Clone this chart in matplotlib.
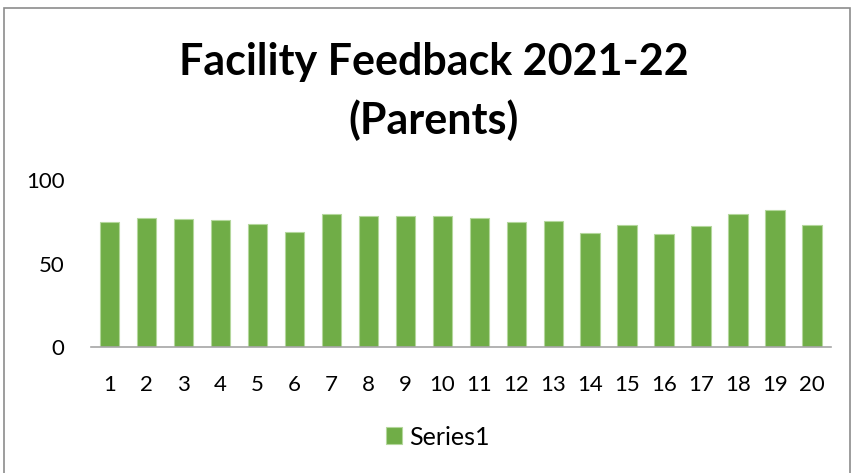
import matplotlib.pyplot as plt
from matplotlib.patches import Rectangle

questions = [str(i) for i in range(1, 21)]
scores = [75, 77.4, 76.8, 76.2, 74, 69.2, 80, 78.6, 78.6, 78.6,
          77.4, 75.2, 75.8, 68.3, 73.4, 67.7, 72.8, 80, 82.2, 73.4]

plt.rcParams['font.family'] = ['Lato', 'DejaVu Sans']

fig = plt.figure(figsize=(8.52, 4.73), dpi=100)
fig.patches.append(Rectangle((4 / 852, -0.05), 846 / 852, 1.05 - 8 / 473,
                             transform=fig.transFigure, fill=False,
                             edgecolor='#8c8c8c', linewidth=1.2))

ax = fig.add_axes([91 / 852, 1 - 347.3 / 473, (830.7 - 91) / 852, 167 / 473])
bars = ax.bar(questions, scores, width=0.53, color='#70AD47',
              edgecolor='#B4D79C', linewidth=0.8, label='Series1')
ax.set_ylim(0, 100)
ax.set_xlim(-0.5, len(questions) - 0.5)
ax.set_yticks([0, 50, 100])
for side in ['top', 'right', 'left']:
    ax.spines[side].set_visible(False)
ax.spines['bottom'].set_color('#a6a6a6')
ax.spines['bottom'].set_linewidth(1.2)
ax.tick_params(axis='both', length=0, labelsize=16, colors='black')
ax.tick_params(axis='x', pad=20)
ax.tick_params(axis='y', pad=19)

title_x = 434 / 852
fig.text(title_x, 1 - 62 / 473, 'Facility Feedback 2021-22', ha='center', va='center',
         fontsize=31, fontweight='bold')
fig.text(title_x, 1 - 120 / 473, '(Parents)', ha='center', va='center',
         fontsize=31, fontweight='bold')

fig.legend(handles=[bars], labels=['Series1'], loc='center',
           bbox_to_anchor=(438 / 852, 1 - 437 / 473), frameon=False,
           fontsize=18, handlelength=0.65, handleheight=0.65, handletextpad=0.3)

fig.savefig('out.png', dpi=100)
